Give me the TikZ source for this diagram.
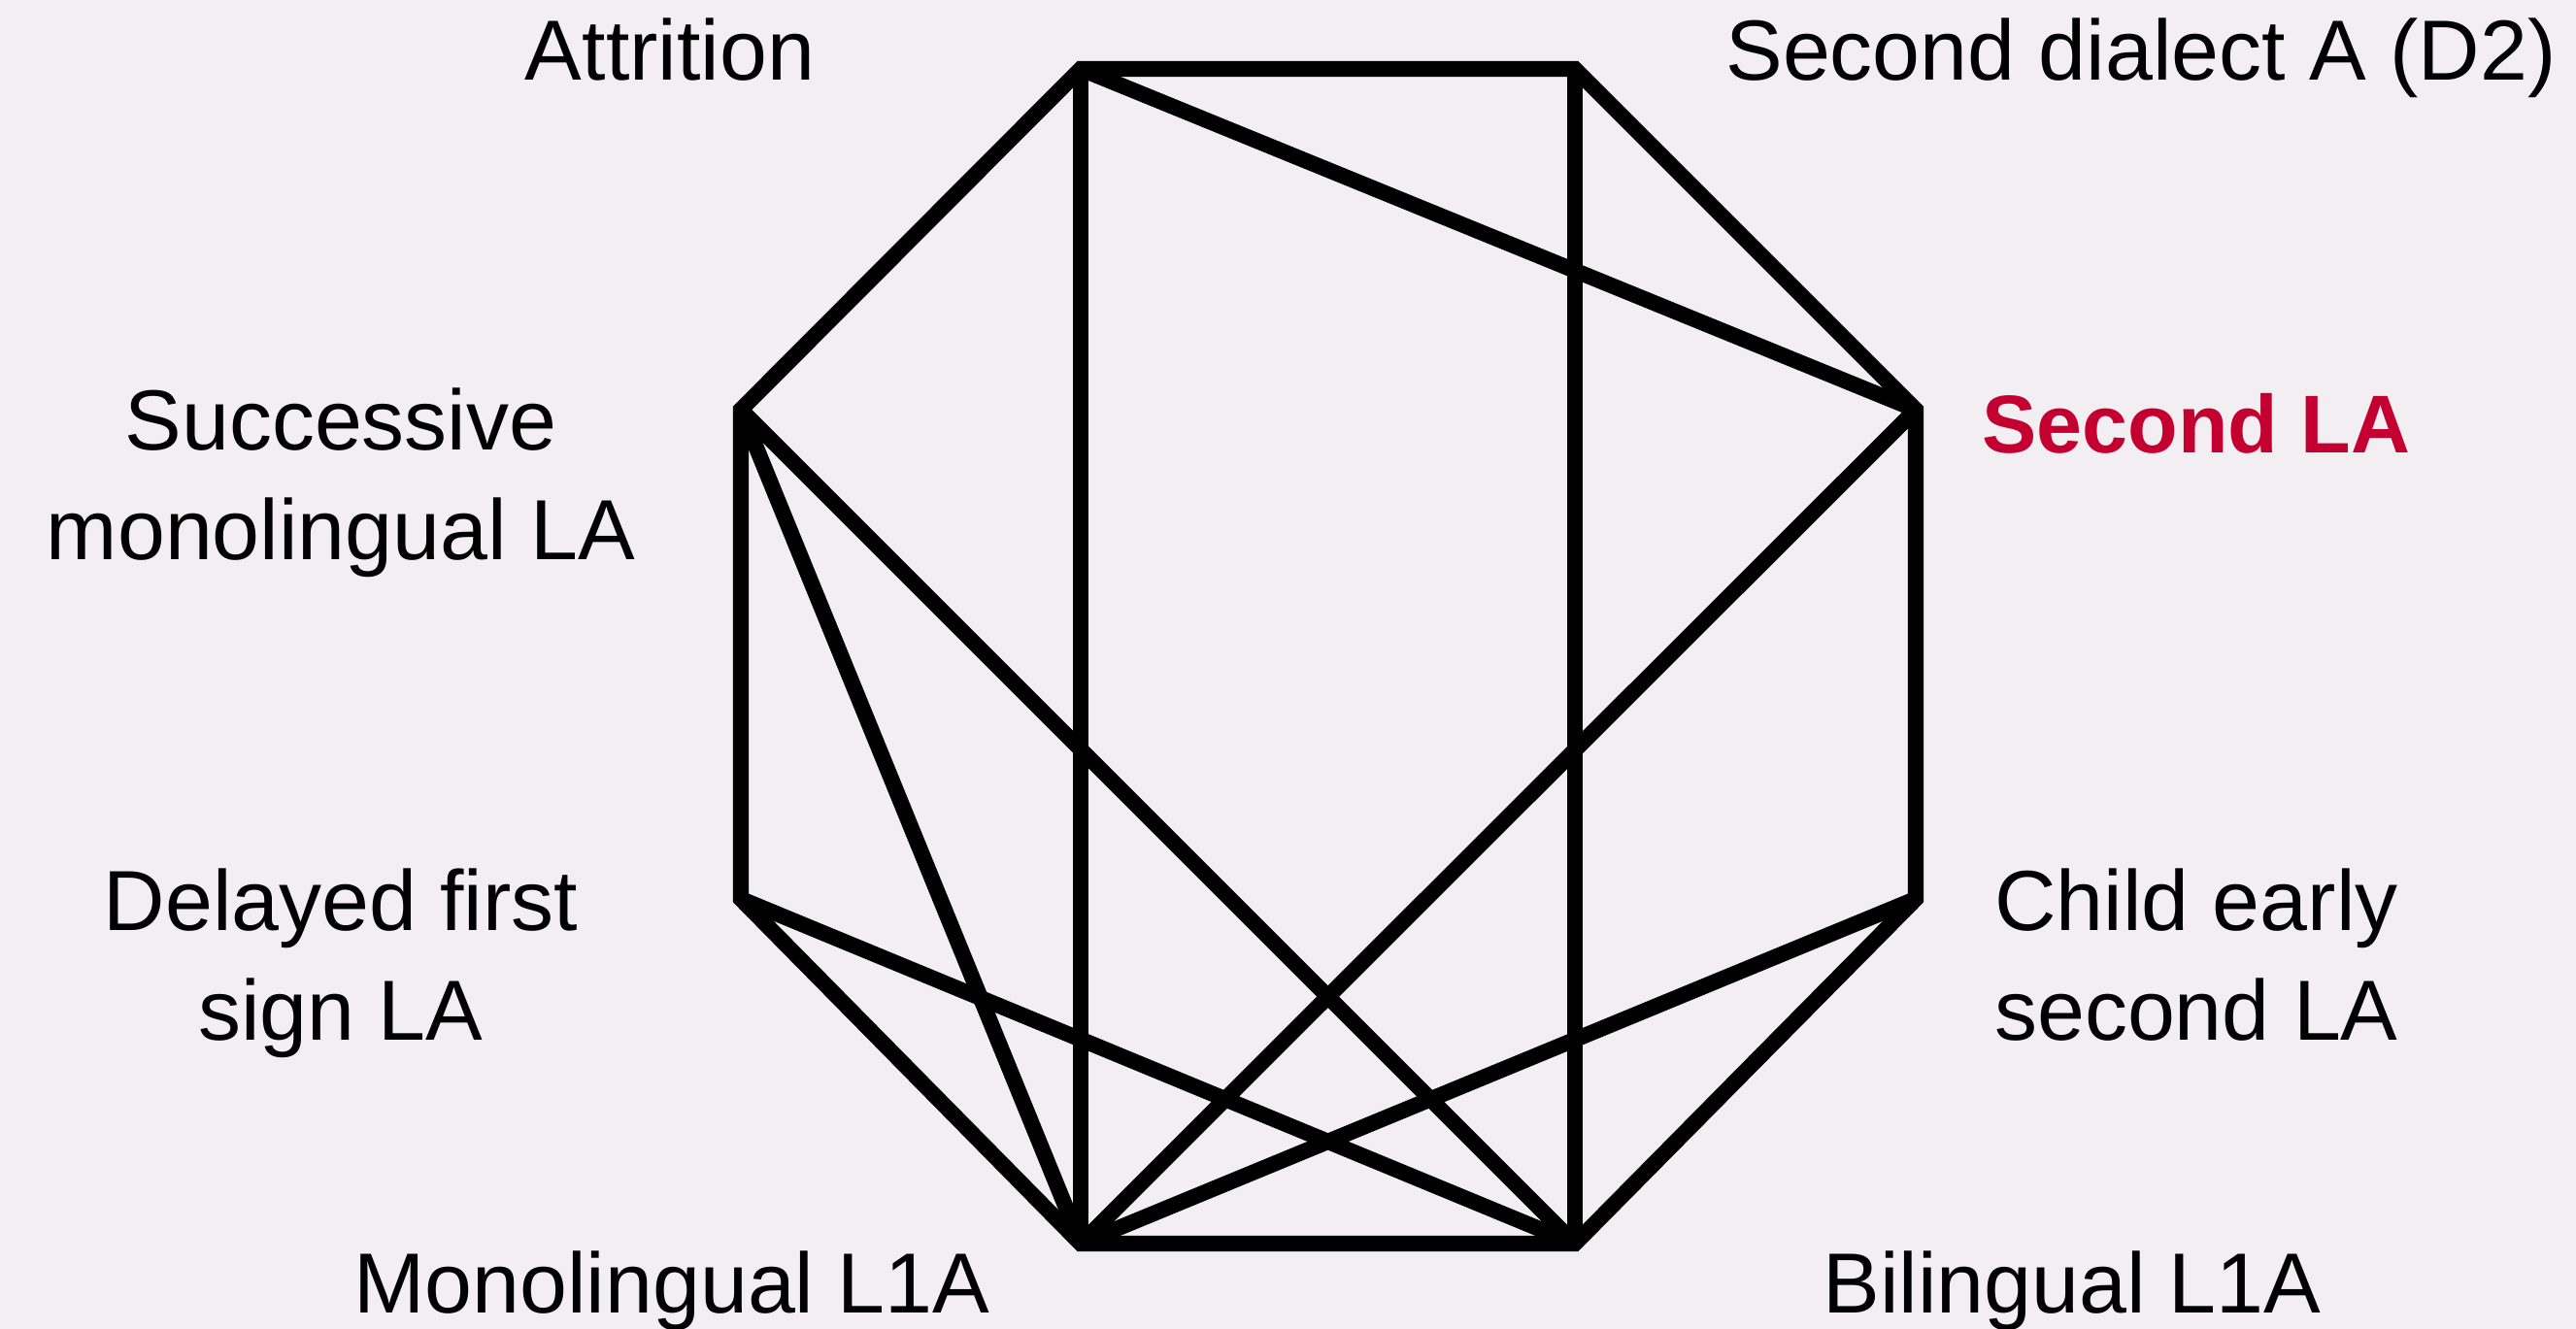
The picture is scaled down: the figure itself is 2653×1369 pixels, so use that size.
\documentclass[tikz,border=0pt]{standalone}
\usepackage{fontspec}
\setmainfont{Liberation Sans}
\definecolor{bgc}{RGB}{242,238,242}
\definecolor{lared}{RGB}{196,0,48}
\begin{document}
\begin{tikzpicture}[x=0.01cm,y=-0.01cm,
  edge/.style={line width=4.6pt, black},
  lbl/.style={anchor=base, inner sep=0pt, align=center, font=\fontsize{25pt}{31.9pt}\selectfont},
  hilbl/.style={lbl, text=lared, font=\fontsize{24pt}{31.9pt}\selectfont\bfseries}]
\fill[bgc] (0,0) rectangle (2653,1369);
\useasboundingbox (0,0) rectangle (2653,1369);
% vertices
\coordinate (TL) at (1113,71);
\coordinate (TR) at (1622,71);
\coordinate (RT) at (1973,422);
\coordinate (RB) at (1973,926);
\coordinate (BR) at (1622,1281);
\coordinate (BL) at (1113,1281);
\coordinate (LB) at (763,926);
\coordinate (LT) at (763,422);
% outline
\draw[edge, line join=miter] (TL) -- (TR) -- (RT) -- (RB) -- (BR) -- (BL) -- (LB) -- (LT) -- cycle;
% chords
\draw[edge] (TL) -- (BL);
\draw[edge] (TR) -- (BR);
\draw[edge] (TL) -- (RT);
\draw[edge] (LT) -- (BR);
\draw[edge] (LT) -- (BL);
\draw[edge] (RT) -- (BL);
\draw[edge] (LB) -- (BR);
\draw[edge] (RB) -- (BL);
% labels (multi-line nodes: base = last line's baseline)
\node[lbl] (attr) at (690,82) {Attrition};
\node[lbl] (d2) at (2205,82) {Second dialect A (D2)};
\node[hilbl] (sla) at (2262,466) {Second LA};
\node[lbl] (succ) at (351,576) {Successive\\monolingual LA};
\node[lbl] (delay) at (351,1071) {Delayed first\\sign LA};
\node[lbl] (child) at (2262,1071) {Child early\\second LA};
\node[lbl] (mono) at (692,1352) {Monolingual L1A};
\node[lbl] (bil) at (2134,1352) {Bilingual L1A};
\end{tikzpicture}
\end{document}
